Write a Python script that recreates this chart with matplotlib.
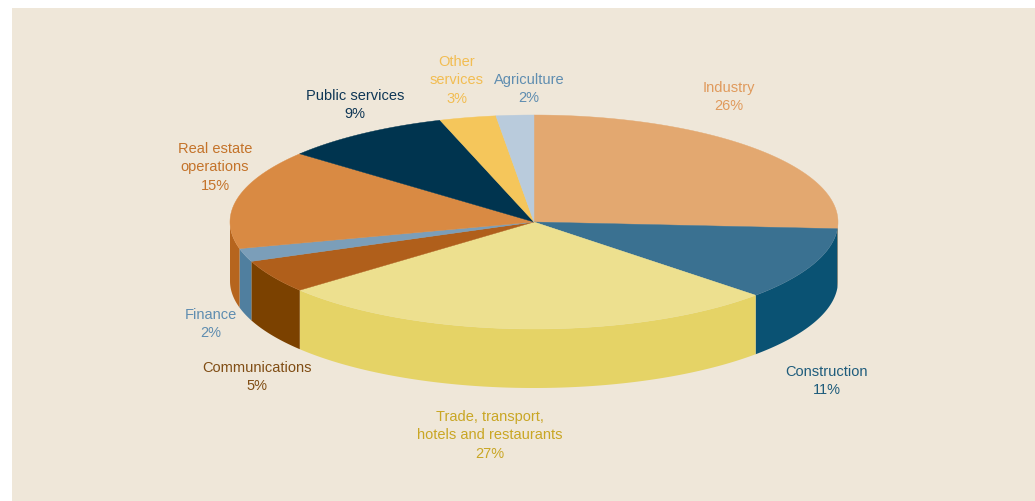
import numpy as np
import matplotlib
matplotlib.use("Agg")
import matplotlib.pyplot as plt
from matplotlib.patches import Polygon, Rectangle

# Sector shares of value added, percent (clockwise from 12 o'clock)
sectors = ["Industry", "Construction", "Trade, transport,\nhotels and restaurants",
           "Communications", "Finance", "Real estate\noperations",
           "Public services", "Other\nservices", "Agriculture"]
shares = [26, 11, 27, 5, 2, 15, 9, 3, 2]

top_colors = ["#e3a870", "#3a7191", "#ede08f", "#b05f1b", "#7b9eb9",
              "#d98a43", "#00344f", "#f5c65b", "#b9cbdc"]
side_colors = ["#c98a50", "#0a5273", "#e5d366", "#7b4100", "#507f9f",
               "#b6651e", "#002538", "#d9a93e", "#98aabb"]
label_colors = ["#e09a5c", "#1e5c7c", "#c9a624", "#804d14", "#5f8db0",
                "#c4732a", "#0e3655", "#f2bd52", "#5f8db0"]
# label anchor (centre of first line), pixel coordinates
label_pos = [(729, 88), (827, 372), (490, 417), (257, 368), (211, 315),
             (215, 149), (355, 96), (457, 62), (529, 80)]

W, H = 1035, 502
fig = plt.figure(figsize=(W / 100, H / 100), dpi=100, facecolor="white")
ax = fig.add_axes([0, 0, 1, 1])
ax.set_xlim(0, W)
ax.set_ylim(H, 0)
ax.axis("off")

ax.add_patch(Rectangle((12, 9), W - 12, H - 9, facecolor="#efe7d9",
                       edgecolor="none", zorder=0))

# ellipse geometry of the pie
cx, cy, rx, ry, depth = 534, 223, 304, 107, 59


def arc(t0, t1, n=200, dy=0.0):
    t = np.radians(np.linspace(t0, t1, n))
    return np.column_stack([cx + rx * np.cos(t), cy - ry * np.sin(t) + dy])


total = float(sum(shares))
bounds = [90.0]
for s in shares:
    bounds.append(bounds[-1] - 360.0 * s / total)

# side walls (front half only, angles in [-180, 0])
for i in range(len(shares)):
    a0, a1 = bounds[i], bounds[i + 1]
    hi, lo = min(a0, 0.0), max(a1, -180.0)
    if hi <= lo:
        continue
    top = arc(hi, lo)
    bot = arc(lo, hi, dy=depth)
    ax.add_patch(Polygon(np.vstack([top, bot]), closed=True,
                         facecolor=side_colors[i], edgecolor="none", zorder=1))

# top surface
for i in range(len(shares)):
    a0, a1 = bounds[i], bounds[i + 1]
    pts = np.vstack([[cx, cy], arc(a0, a1)])
    ax.add_patch(Polygon(pts, closed=True, facecolor=top_colors[i],
                         edgecolor=top_colors[i], linewidth=0.3, zorder=2))

# labels
font = ["Liberation Sans Narrow", "Liberation Sans", "DejaVu Sans"]
for name, val, (x, y), col in zip(sectors, shares, label_pos, label_colors):
    ax.text(x, y - 7, f"{name}\n{val}%", ha="center", va="top",
            color=col, fontsize=10.5, family=font, linespacing=1.4,
            zorder=3)

fig.savefig("out.png", dpi=100, facecolor="white")
